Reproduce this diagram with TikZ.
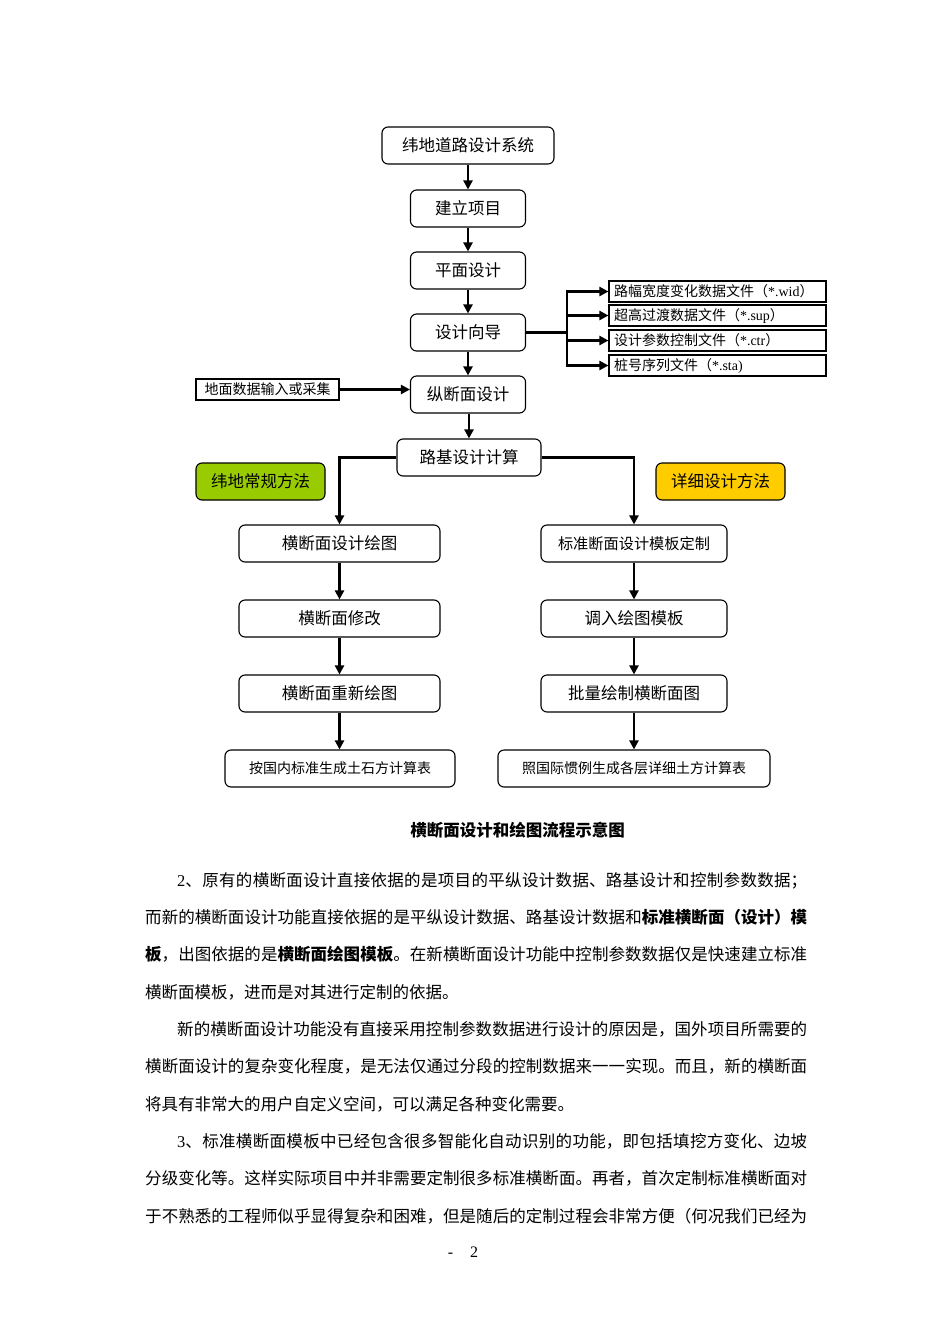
\documentclass[tikz,border=0pt]{standalone}
\usepackage{fontspec}
\setmainfont{Noto Sans CJK SC}
\newfontfamily\lser{Liberation Serif}
\usetikzlibrary{arrows.meta}
\XeTeXlinebreaklocale "zh"
\XeTeXlinebreakskip=0pt plus 3pt minus 0.3pt
\newcommand{\fsz}[1]{\fontsize{#1}{#1}\selectfont}
\definecolor{limegreen}{RGB}{153,204,0}
\definecolor{goldyellow}{RGB}{255,204,0}
\begin{document}
\begin{tikzpicture}[x=1pt,y=-1pt,
  rbox/.style={draw,rounded corners=6pt,line width=1.1pt,inner sep=0pt,
    minimum height=37pt,font=\fsz{16.5}},
  fbox/.style={draw,line width=1.1pt,inner xsep=5pt,inner ysep=0pt,
    minimum height=21pt,text width=207pt,align=left,font=\fsz{14}},
  sbox/.style={draw,line width=1.1pt,inner sep=0pt,minimum height=21pt,font=\fsz{14}},
  wire/.style={line width=2.2pt},
  conn/.style={line width=2.2pt,-{Triangle[length=9pt,width=9pt]}}]
\useasboundingbox (0,0) rectangle (950,1344);
% main column
\node[rbox,minimum width=172pt] (sys) at (468,145.5) {纬地道路设计系统};
\node[rbox,minimum width=115pt] (jl) at (468,208.5) {建立项目};
\node[rbox,minimum width=115pt] (pm) at (468,270.5) {平面设计};
\node[rbox,minimum width=115pt] (sj) at (468,332.5) {设计向导};
\node[rbox,minimum width=115pt] (zd) at (468,394.5) {纵断面设计};
\node[rbox,minimum width=144pt] (lj) at (469,457.5) {路基设计计算};
% files
\node[fbox] (f1) at (717.5,291.5) {路幅宽度变化数据文件（{\lser *.wid}）};
\node[fbox] (f2) at (717.5,315.5) {超高过渡数据文件（{\lser *.sup}）};
\node[fbox] (f3) at (717.5,340.5) {设计参数控制文件（{\lser *.ctr}）};
\node[fbox] (f4) at (717.5,365.5) {桩号序列文件（{\lser *.sta)}};
\coordinate (br) at (567,332.5);
% ground data
\node[sbox,minimum width=143pt] (dm) at (267.5,389.5) {地面数据输入或采集};
% method labels
\node[rbox,fill=limegreen,minimum width=129pt] (gm) at (260.5,481.5) {纬地常规方法};
\node[rbox,fill=goldyellow,minimum width=129pt] (ym) at (720.5,481.5) {详细设计方法};
% left column
\node[rbox,minimum width=201pt] (l1) at (339.5,543.5) {横断面设计绘图};
\node[rbox,minimum width=201pt] (l2) at (339.5,618.5) {横断面修改};
\node[rbox,minimum width=201pt] (l3) at (339.5,693.5) {横断面重新绘图};
\node[rbox,minimum width=230pt,font=\fsz{14}] (l4) at (340,768.5) {按国内标准生成土石方计算表};
% right column
\node[rbox,minimum width=186pt,font=\fsz{15.2}] (r1) at (634,543.5) {标准断面设计模板定制};
\node[rbox,minimum width=186pt] (r2) at (634,618.5) {调入绘图模板};
\node[rbox,minimum width=186pt] (r3) at (634,693.5) {批量绘制横断面图};
\node[rbox,minimum width=272pt,font=\fsz{14}] (r4) at (634,768.5) {照国际惯例生成各层详细土方计算表};
% connectors
\draw[conn] (sys) -- (jl);
\draw[conn] (jl) -- (pm);
\draw[conn] (pm) -- (sj);
\draw[conn] (sj) -- (zd);
\draw[conn] (zd.south -| lj.north) -- (lj.north);
\draw[wire] (sj.east) -- (br);
\foreach \f in {f1,f2,f3,f4} \draw[conn] (br) |- (\f.west);
\draw[conn] (dm.east) -- (dm.east -| zd.west);
\draw[conn] (lj.west) -| (l1.north);
\draw[conn] (lj.east) -| (r1.north);
\draw[conn] (l1) -- (l2);
\draw[conn] (l2) -- (l3);
\draw[conn] (l3.south) -- (l3.south |- l4.north);
\draw[conn] (r1) -- (r2);
\draw[conn] (r2) -- (r3);
\draw[conn] (r3) -- (r4);
% caption
\node[font=\fsz{16.5}\bfseries] (cap) at (517.5,830) {横断面设计和绘图流程示意图};
% body text
\node[anchor=base west,inner sep=0pt] (body) at (145,886.3) {\parbox[t]{662pt}{\fsz{16.5}\fontsize{16.5}{37.3}\selectfont
\tolerance=9999\parindent=32pt\parskip=0pt\rightskip=0pt
{\lser 2}、原有的横断面设计直接依据的是项目的平纵设计数据、路基设计和控制参数数据；\linebreak
而新的横断面设计功能直接依据的是平纵设计数据、路基设计数据和\textbf{标准横断面（设计）模}\linebreak
\textbf{板}，出图依据的是\textbf{横断面绘图模板}。在新横断面设计功能中控制参数数据仅是快速建立标准\linebreak
横断面模板，进而是对其进行定制的依据。\par
新的横断面设计功能没有直接采用控制参数数据进行设计的原因是，国外项目所需要的\linebreak
横断面设计的复杂变化程度，是无法仅通过分段的控制数据来一一实现。而且，新的横断面\linebreak
将具有非常大的用户自定义空间，可以满足各种变化需要。\par
{\lser 3}、标准横断面模板中已经包含很多智能化自动识别的功能，即包括填挖方变化、边坡\linebreak
分级变化等。这样实际项目中并非需要定制很多标准横断面。再者，首次定制标准横断面对\linebreak
于不熟悉的工程师似乎显得复杂和困难，但是随后的定制过程会非常方便（何况我们已经为\linebreak
}};
% page number
\node[font=\lser\fsz{16}] (pg) at (463,1252) {-\hspace{17pt}2};
\end{tikzpicture}
\end{document}
